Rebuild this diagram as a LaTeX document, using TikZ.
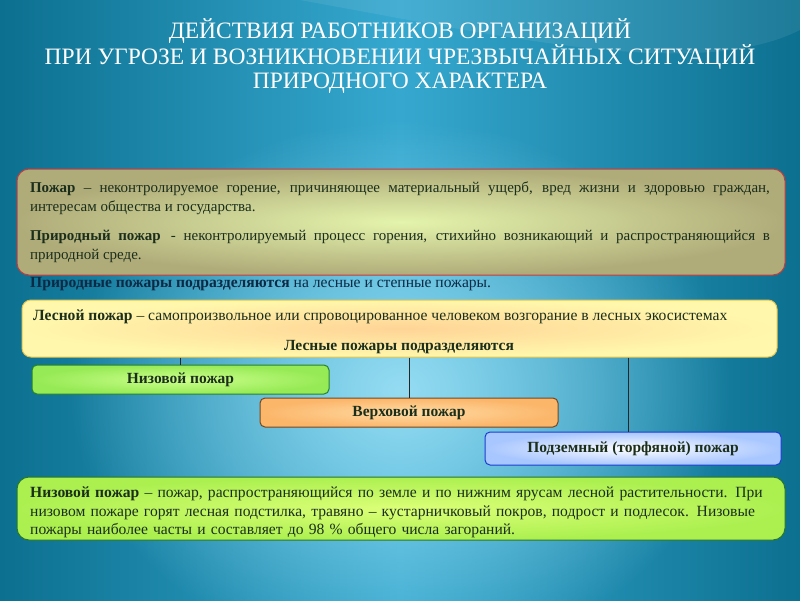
\documentclass[tikz,border=0pt]{standalone}
\usepackage{fontspec}
\setmainfont{Liberation Serif}
\newfontfamily\titlefont{Liberation Serif}
\usetikzlibrary{fadings}
\tikzfading[name=glow, inner color=transparent!0, outer color=transparent!100]
\definecolor{bgdark}{HTML}{0C7090}
\definecolor{bgmid}{HTML}{36A8CF}
\definecolor{bglight}{HTML}{95DCF2}
\definecolor{txtdark}{HTML}{1B2E1B}
\definecolor{navy}{HTML}{0B2A45}
\tikzset{
  lbl/.style={font=\fontsize{15.5}{18}\selectfont\bfseries, text=txtdark},
  conn/.style={draw=black!85, line width=0.7pt},
  bodytext/.style={font=\fontsize{15.6}{18.5}\selectfont, text=txtdark, inner sep=0pt}
}
\begin{document}
\begin{tikzpicture}[x=1pt,y=-1pt]
\useasboundingbox (0,0) rectangle (800,600);
% background
\shade[left color=bgdark, right color=bgdark, middle color=bgmid] (0,0) rectangle (800,600);
\fill[bglight, path fading=glow] (400,390) ellipse (330 and 270);
\fill[white, opacity=0.08] (300,0) .. controls (520,40) and (700,80) .. (800,30) -- (800,0) -- cycle;
% title
\node[font=\titlefont\fontsize{23.5}{24}\selectfont, text=white, align=center] (title) at (400,56)
  {ДЕЙСТВИЯ РАБОТНИКОВ ОРГАНИЗАЦИЙ\\ПРИ УГРОЗЕ И ВОЗНИКНОВЕНИИ ЧРЕЗВЫЧАЙНЫХ СИТУАЦИЙ\\ПРИРОДНОГО ХАРАКТЕРА};
% box 1
\node[rounded corners=12pt, draw={rgb,255:red,200;green,58;blue,58}, line width=1pt,
      inner color={rgb,255:red,228;green,244;blue,172}, outer color={rgb,255:red,176;green,172;blue,122},
      minimum width=768pt, minimum height=106pt, inner sep=0pt] (def) at (401,222) {};
\node[text width=740pt, align=justify, bodytext, font=\fontsize{15}{19}\selectfont] (deftext) at (400,222)
  {\textbf{Пожар} – неконтролируемое горение, причиняющее материальный ущерб, вред жизни и здоровью граждан,\linebreak интересам общества и государства.\par\vspace{10pt}
   \textbf{Природный пожар} \,- неконтролируемый процесс горения, стихийно возникающий и распространяющийся в\linebreak природной среде.};
\node[anchor=west, inner sep=0pt, text=navy, font=\fontsize{15.6}{18}\selectfont] (sub) at (30,284)
  {\textbf{Природные пожары подразделяются} на лесные и степные пожары.};
% box 2
\node[rounded corners=9pt, draw={rgb,255:red,232;green,196;blue,74}, line width=1pt,
      inner color={rgb,255:red,255;green,212;blue,150}, outer color={rgb,255:red,255;green,247;blue,172},
      minimum width=755pt, minimum height=57pt, inner sep=0pt] (forest) at (399.5,328.5) {};
\node[anchor=west, bodytext] (forestdef) at (33,317)
  {\textbf{Лесной пожар} – самопроизвольное или спровоцированное человеком возгорание в лесных экосистемах};
\node[inner sep=0pt, lbl] (forestsub) at (399,347) {Лесные пожары подразделяются};
% children
\node[rounded corners=5pt, draw={rgb,255:red,40;green,130;blue,40}, line width=1pt,
      inner color={rgb,255:red,205;green,255;blue,140}, outer color={rgb,255:red,150;green,234;blue,85},
      minimum width=297pt, minimum height=29pt, inner sep=0pt, lbl] (low) at (180.5,379.5) {Низовой пожар};
\node[rounded corners=5pt, draw={rgb,255:red,120;green,70;blue,30}, line width=1pt,
      inner color={rgb,255:red,255;green,220;blue,165}, outer color={rgb,255:red,251;green,182;blue,106},
      minimum width=298pt, minimum height=29pt, inner sep=0pt, lbl] (crown) at (409,412.5) {Верховой пожар};
\node[rounded corners=5pt, draw={rgb,255:red,28;green,60;blue,210}, line width=1pt,
      inner color=white, outer color={rgb,255:red,168;green,198;blue,255},
      minimum width=296pt, minimum height=33pt, inner sep=0pt, lbl] (under) at (633,448.5) {Подземный (торфяной) пожар};
\draw[conn] (forest.south -| low.north) -- (low.north);
\draw[conn] (forest.south -| crown.north) -- (crown.north);
\draw[conn] (forest.south -| 628,0) -- ([xshift=-5pt]under.north);
% bottom box
\node[rounded corners=12pt, draw={rgb,255:red,40;green,120;blue,40}, line width=1pt,
      inner color={rgb,255:red,220;green,255;blue,120}, outer color={rgb,255:red,172;green,240;blue,80},
      minimum width=768pt, minimum height=63pt, inner sep=0pt] (lowdef) at (401,508.5) {};
\node[anchor=north west, text width=752pt, align=left, bodytext] (lowdeftext) at (30,487)
  {\textbf{Низовой пожар} – пожар, распространяющийся по земле и по нижним ярусам лесной растительности. При\\
   низовом пожаре горят лесная подстилка, травяно – кустарничковый покров, подрост и подлесок. Низовые\\
   пожары наиболее часты и составляет до 98 \% общего числа загораний.};
\end{tikzpicture}
\end{document}
